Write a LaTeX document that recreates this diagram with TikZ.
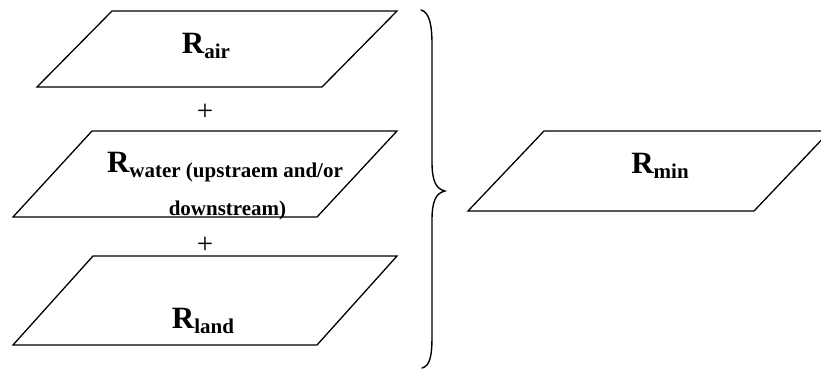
\documentclass[tikz,border=0pt]{standalone}
\usepackage{fontspec}
\setmainfont{Liberation Serif}

% big bold R with a lowered bold subscript
\newcommand{\bigR}{{\fontsize{31}{36}\selectfont\bfseries R}}
\newcommand{\subtxt}[1]{{\fontsize{21}{25}\selectfont\bfseries #1}}
\newcommand{\Rwith}[1]{\bigR\raisebox{-5pt}{\subtxt{#1}}}

\tikzset{
  box/.style={draw=black, line width=1.3pt, line join=miter, fill=white},
  lbl/.style={inner sep=0pt, outer sep=0pt, anchor=base},
  plus/.style={inner sep=0pt, font=\fontsize{29}{32}\selectfont},
  bracepath/.style={draw=black, line width=1.4pt, line cap=round}
}

\begin{document}
\begin{tikzpicture}[x=1pt, y=-1pt]
  \useasboundingbox (0,0) rectangle (821,370);
  \begin{scope}
    \clip (0,0) rectangle (821,370);

    % input sheets
    \draw[box] (112,11) coordinate (air-tl) -- (397,11) -- (322,87) -- (37,87) -- cycle;
    \draw[box] (92,131) coordinate (water-tl) -- (397,131) -- (317,217) -- (13,217) -- cycle;
    \draw[box] (93,256) coordinate (land-tl) -- (397,256) -- (317,345) -- (13,345) -- cycle;

    % result sheet
    \draw[box] (544,131) coordinate (min-tl) -- (830,131) -- (754,211) -- (468,211) -- cycle;
  \end{scope}

  % labels
  \node[lbl] (airlbl) at (206,53) {\Rwith{air}};
  \node[lbl] (waterlbl) at (225,172) {\Rwith{water (upstraem and/or}};
  \node[lbl] (waterlbl2) at (227.5,215) {\subtxt{downstream)}};
  \node[lbl] (landlbl) at (203,328) {\Rwith{land}};
  \node[lbl] (minlbl) at (660,173) {\Rwith{min}};

  % sums
  \node[plus] (plusA) at (205,112) {+};
  \node[plus] (plusB) at (205,245) {+};

  % curly brace collecting the three inputs
  \coordinate (bracetop) at (421,10);
  \coordinate (bracetip) at (445,191);
  \coordinate (bracebot) at (422,368);
  \draw[bracepath] (bracetop)
      .. controls (429,12) and (432,24) .. (432,44)
      -- (432,162)
      .. controls (432,181) and (436,189) .. (bracetip)
      .. controls (436,193) and (432,201) .. (432,220)
      -- (432,336)
      .. controls (432,356) and (430,366) .. (bracebot);
\end{tikzpicture}
\end{document}
